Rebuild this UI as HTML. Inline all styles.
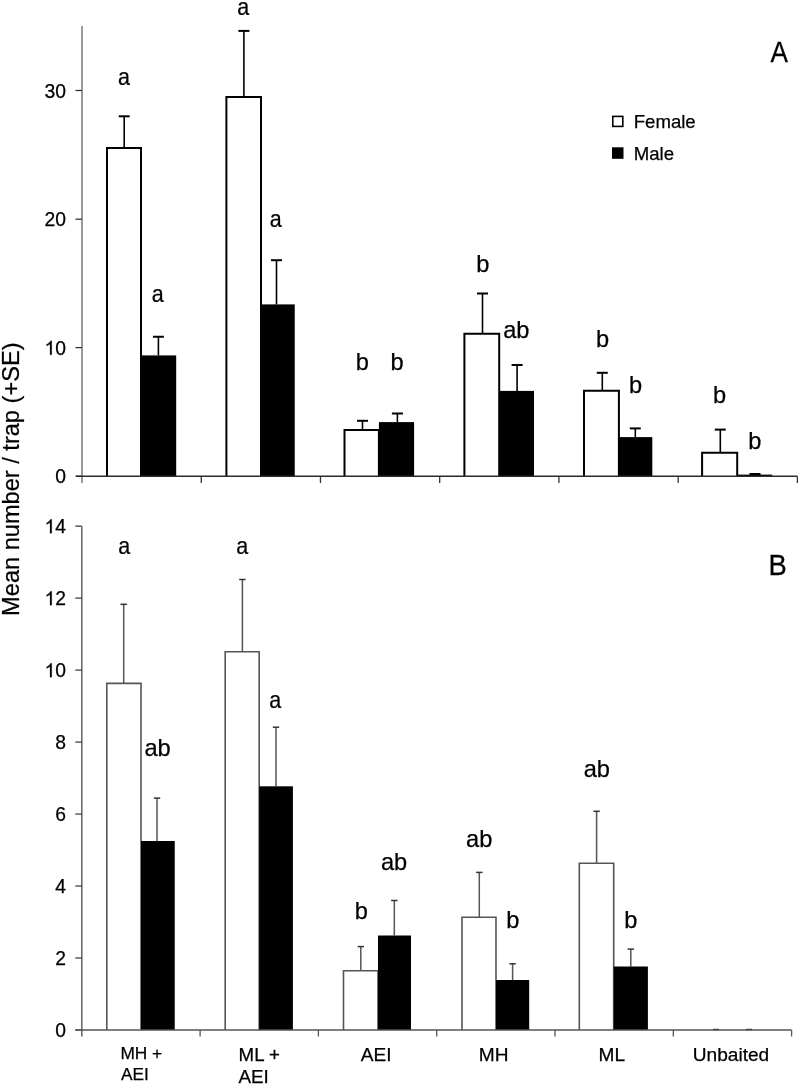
<!DOCTYPE html>
<html><head><meta charset="utf-8"><title>Mean number per trap</title>
<style>
html,body{margin:0;padding:0;background:#fff;}
svg{display:block;will-change:transform;}
text{font-family:"Liberation Sans",sans-serif;fill:#000;stroke:#000;stroke-width:0.25px;}
</style></head>
<body>
<svg width="800" height="1086" viewBox="0 0 800 1086">
<rect x="0" y="0" width="800" height="1086" fill="#fff"/>
<line x1="82" y1="26" x2="82" y2="483" stroke="#9a9a9a" stroke-width="2"/>
<line x1="75.5" y1="476.3" x2="82" y2="476.3" stroke="#333" stroke-width="1.3"/>
<line x1="75.5" y1="347.6" x2="82" y2="347.6" stroke="#333" stroke-width="1.3"/>
<line x1="75.5" y1="219.2" x2="82" y2="219.2" stroke="#333" stroke-width="1.3"/>
<line x1="75.5" y1="90.5" x2="82" y2="90.5" stroke="#333" stroke-width="1.3"/>
<line x1="201.23" y1="476.3" x2="201.23" y2="483" stroke="#333" stroke-width="1.3"/>
<line x1="320.46" y1="476.3" x2="320.46" y2="483" stroke="#333" stroke-width="1.3"/>
<line x1="439.69" y1="476.3" x2="439.69" y2="483" stroke="#333" stroke-width="1.3"/>
<line x1="558.92" y1="476.3" x2="558.92" y2="483" stroke="#333" stroke-width="1.3"/>
<line x1="678.15" y1="476.3" x2="678.15" y2="483" stroke="#333" stroke-width="1.3"/>
<line x1="797.38" y1="476.3" x2="797.38" y2="483" stroke="#333" stroke-width="1.3"/>
<line x1="124.2" y1="148" x2="124.2" y2="116.3" stroke="#000" stroke-width="1.6"/>
<line x1="118.7" y1="116.3" x2="129.7" y2="116.3" stroke="#000" stroke-width="2"/>
<line x1="158.4" y1="355.4" x2="158.4" y2="336.75" stroke="#000" stroke-width="1.6"/>
<line x1="152.9" y1="336.75" x2="163.9" y2="336.75" stroke="#000" stroke-width="2"/>
<path d="M107 476.3 V148.0 H141 V476.3" fill="#fff" stroke="#000" stroke-width="2" stroke-linejoin="miter"/>
<rect x="141" y="355.4" width="35.20" height="121.60" fill="#000"/>
<line x1="243.9" y1="96.9" x2="243.9" y2="30.9" stroke="#000" stroke-width="1.6"/>
<line x1="238.4" y1="30.9" x2="249.4" y2="30.9" stroke="#000" stroke-width="2"/>
<line x1="276.5" y1="304.4" x2="276.5" y2="260.2" stroke="#000" stroke-width="1.6"/>
<line x1="271" y1="260.2" x2="282" y2="260.2" stroke="#000" stroke-width="2"/>
<path d="M226.4 476.3 V96.9 H261 V476.3" fill="#fff" stroke="#000" stroke-width="2" stroke-linejoin="miter"/>
<rect x="261" y="304.4" width="33.75" height="172.60" fill="#000"/>
<line x1="362.5" y1="429.9" x2="362.5" y2="420.8" stroke="#000" stroke-width="1.6"/>
<line x1="357" y1="420.8" x2="368" y2="420.8" stroke="#000" stroke-width="2"/>
<line x1="397.4" y1="422.1" x2="397.4" y2="413.5" stroke="#000" stroke-width="1.6"/>
<line x1="391.9" y1="413.5" x2="402.9" y2="413.5" stroke="#000" stroke-width="2"/>
<path d="M344.5 476.3 V429.9 H378.9 V476.3" fill="#fff" stroke="#000" stroke-width="2" stroke-linejoin="miter"/>
<rect x="378.9" y="422.1" width="35.20" height="54.90" fill="#000"/>
<line x1="482.5" y1="333.8" x2="482.5" y2="293.5" stroke="#000" stroke-width="1.6"/>
<line x1="477" y1="293.5" x2="488" y2="293.5" stroke="#000" stroke-width="2"/>
<line x1="517.1" y1="390.9" x2="517.1" y2="365" stroke="#000" stroke-width="1.6"/>
<line x1="511.6" y1="365" x2="522.6" y2="365" stroke="#000" stroke-width="2"/>
<path d="M464.4 476.3 V333.8 H499.2 V476.3" fill="#fff" stroke="#000" stroke-width="2" stroke-linejoin="miter"/>
<rect x="499.2" y="390.9" width="34.80" height="86.10" fill="#000"/>
<line x1="602.3" y1="390.8" x2="602.3" y2="372.8" stroke="#000" stroke-width="1.6"/>
<line x1="596.8" y1="372.8" x2="607.8" y2="372.8" stroke="#000" stroke-width="2"/>
<line x1="635.3" y1="437.1" x2="635.3" y2="428.4" stroke="#000" stroke-width="1.6"/>
<line x1="629.8" y1="428.4" x2="640.8" y2="428.4" stroke="#000" stroke-width="2"/>
<path d="M584.0 476.3 V390.8 H618.9 V476.3" fill="#fff" stroke="#000" stroke-width="2" stroke-linejoin="miter"/>
<rect x="618.9" y="437.1" width="33.40" height="39.90" fill="#000"/>
<line x1="720.3" y1="452.7" x2="720.3" y2="429.6" stroke="#000" stroke-width="1.6"/>
<line x1="714.8" y1="429.6" x2="725.8" y2="429.6" stroke="#000" stroke-width="2"/>
<line x1="755" y1="474.6" x2="755" y2="474" stroke="#000" stroke-width="1.6"/>
<line x1="749.5" y1="474" x2="760.5" y2="474" stroke="#000" stroke-width="2"/>
<path d="M702.1 476.3 V452.7 H737.2 V476.3" fill="#fff" stroke="#000" stroke-width="2" stroke-linejoin="miter"/>
<rect x="737.2" y="474.6" width="35.00" height="2.40" fill="#000"/>
<line x1="76" y1="476.3" x2="797.4" y2="476.3" stroke="#2a2a2a" stroke-width="1.5"/>
<line x1="81.8" y1="526.2" x2="81.8" y2="1036.5" stroke="#6a6a6a" stroke-width="1.6"/>
<line x1="75.3" y1="1030" x2="81.8" y2="1030" stroke="#444" stroke-width="1.3"/>
<line x1="75.3" y1="958.02" x2="81.8" y2="958.02" stroke="#444" stroke-width="1.3"/>
<line x1="75.3" y1="886.04" x2="81.8" y2="886.04" stroke="#444" stroke-width="1.3"/>
<line x1="75.3" y1="814.06" x2="81.8" y2="814.06" stroke="#444" stroke-width="1.3"/>
<line x1="75.3" y1="742.08" x2="81.8" y2="742.08" stroke="#444" stroke-width="1.3"/>
<line x1="75.3" y1="670.1" x2="81.8" y2="670.1" stroke="#444" stroke-width="1.3"/>
<line x1="75.3" y1="598.12" x2="81.8" y2="598.12" stroke="#444" stroke-width="1.3"/>
<line x1="75.3" y1="526.14" x2="81.8" y2="526.14" stroke="#444" stroke-width="1.3"/>
<line x1="200.1" y1="1030" x2="200.1" y2="1036.5" stroke="#555" stroke-width="1.3"/>
<line x1="318.4" y1="1030" x2="318.4" y2="1036.5" stroke="#555" stroke-width="1.3"/>
<line x1="436.7" y1="1030" x2="436.7" y2="1036.5" stroke="#555" stroke-width="1.3"/>
<line x1="555" y1="1030" x2="555" y2="1036.5" stroke="#555" stroke-width="1.3"/>
<line x1="673.3" y1="1030" x2="673.3" y2="1036.5" stroke="#555" stroke-width="1.3"/>
<line x1="791.6" y1="1030" x2="791.6" y2="1036.5" stroke="#555" stroke-width="1.3"/>
<line x1="123.7" y1="683.4" x2="123.7" y2="604.3" stroke="#555" stroke-width="1.5"/>
<line x1="120.5" y1="604.3" x2="126.9" y2="604.3" stroke="#333" stroke-width="1.5"/>
<line x1="157" y1="841" x2="157" y2="798.1" stroke="#555" stroke-width="1.5"/>
<line x1="153.8" y1="798.1" x2="160.2" y2="798.1" stroke="#333" stroke-width="1.5"/>
<path d="M106.8 1030.0 V683.4 H141 V1030.0" fill="#fff" stroke="#555" stroke-width="1.6" stroke-linejoin="miter"/>
<rect x="141" y="841.0" width="33.75" height="189.00" fill="#000"/>
<line x1="242.4" y1="651.7" x2="242.4" y2="579.5" stroke="#555" stroke-width="1.5"/>
<line x1="239.2" y1="579.5" x2="245.6" y2="579.5" stroke="#333" stroke-width="1.5"/>
<line x1="276" y1="786.3" x2="276" y2="727.2" stroke="#555" stroke-width="1.5"/>
<line x1="272.8" y1="727.2" x2="279.2" y2="727.2" stroke="#333" stroke-width="1.5"/>
<path d="M225.2 1030.0 V651.7 H259.2 V1030.0" fill="#fff" stroke="#555" stroke-width="1.6" stroke-linejoin="miter"/>
<rect x="259.2" y="786.3" width="33.70" height="243.70" fill="#000"/>
<line x1="360.8" y1="970.8" x2="360.8" y2="946.6" stroke="#555" stroke-width="1.5"/>
<line x1="357.6" y1="946.6" x2="364" y2="946.6" stroke="#333" stroke-width="1.5"/>
<line x1="394.3" y1="935.5" x2="394.3" y2="900.5" stroke="#555" stroke-width="1.5"/>
<line x1="391.1" y1="900.5" x2="397.5" y2="900.5" stroke="#333" stroke-width="1.5"/>
<path d="M343.5 1030.0 V970.8 H378 V1030.0" fill="#fff" stroke="#555" stroke-width="1.6" stroke-linejoin="miter"/>
<rect x="378" y="935.5" width="33.00" height="94.50" fill="#000"/>
<line x1="479.3" y1="917.3" x2="479.3" y2="872.4" stroke="#555" stroke-width="1.5"/>
<line x1="476.1" y1="872.4" x2="482.5" y2="872.4" stroke="#333" stroke-width="1.5"/>
<line x1="512.6" y1="980" x2="512.6" y2="963.8" stroke="#555" stroke-width="1.5"/>
<line x1="509.4" y1="963.8" x2="515.8" y2="963.8" stroke="#333" stroke-width="1.5"/>
<path d="M462.0 1030.0 V917.3 H496 V1030.0" fill="#fff" stroke="#555" stroke-width="1.6" stroke-linejoin="miter"/>
<rect x="496" y="980.0" width="33.20" height="50.00" fill="#000"/>
<line x1="596.6" y1="863.3" x2="596.6" y2="811.3" stroke="#555" stroke-width="1.5"/>
<line x1="593.4" y1="811.3" x2="599.8" y2="811.3" stroke="#333" stroke-width="1.5"/>
<line x1="630.8" y1="966.5" x2="630.8" y2="949.1" stroke="#555" stroke-width="1.5"/>
<line x1="627.6" y1="949.1" x2="634" y2="949.1" stroke="#333" stroke-width="1.5"/>
<path d="M579.3 1030.0 V863.3 H613.7 V1030.0" fill="#fff" stroke="#555" stroke-width="1.6" stroke-linejoin="miter"/>
<rect x="613.7" y="966.5" width="34.20" height="63.50" fill="#000"/>
<line x1="75.3" y1="1030" x2="791.6" y2="1030" stroke="#555" stroke-width="1.6"/>
<line x1="713" y1="1029.5" x2="719" y2="1029.5" stroke="#444" stroke-width="1.5"/>
<line x1="746" y1="1029.5" x2="752" y2="1029.5" stroke="#444" stroke-width="1.5"/>
<rect x="612.8" y="116.4" width="10" height="10" fill="#fff" stroke="#000" stroke-width="1.6"/>
<rect x="612" y="147.3" width="11.5" height="11.5" fill="#000"/>
<text x="55.27" y="483.40" font-size="19.3">0</text>
<path d="M51.73 354.70 L50.03 354.70 L50.03 343.89 Q49.42 344.48 48.42 345.06 Q47.43 345.64 46.64 345.94 L46.64 344.30 Q48.06 343.63 49.13 342.68 Q50.19 341.72 50.64 340.83 L51.73 340.83 Z" fill="#000" stroke="#000" stroke-width="0.25"/>
<text x="55.27" y="354.70" font-size="19.3">0</text>
<text x="44.54" y="226.30" font-size="19.3">2</text>
<text x="55.27" y="226.30" font-size="19.3">0</text>
<text x="44.54" y="97.60" font-size="19.3">3</text>
<text x="55.27" y="97.60" font-size="19.3">0</text>
<text x="55.27" y="1037.10" font-size="19.3">0</text>
<text x="55.27" y="965.12" font-size="19.3">2</text>
<text x="55.27" y="893.14" font-size="19.3">4</text>
<text x="55.27" y="821.16" font-size="19.3">6</text>
<text x="55.27" y="749.18" font-size="19.3">8</text>
<path d="M51.73 677.20 L50.03 677.20 L50.03 666.39 Q49.42 666.98 48.42 667.56 Q47.43 668.14 46.64 668.44 L46.64 666.80 Q48.06 666.13 49.13 665.18 Q50.19 664.22 50.64 663.33 L51.73 663.33 Z" fill="#000" stroke="#000" stroke-width="0.25"/>
<text x="55.27" y="677.20" font-size="19.3">0</text>
<path d="M51.73 605.22 L50.03 605.22 L50.03 594.41 Q49.42 595.00 48.42 595.58 Q47.43 596.16 46.64 596.46 L46.64 594.82 Q48.06 594.15 49.13 593.20 Q50.19 592.24 50.64 591.35 L51.73 591.35 Z" fill="#000" stroke="#000" stroke-width="0.25"/>
<text x="55.27" y="605.22" font-size="19.3">2</text>
<path d="M51.73 533.24 L50.03 533.24 L50.03 522.43 Q49.42 523.02 48.42 523.60 Q47.43 524.18 46.64 524.48 L46.64 522.84 Q48.06 522.17 49.13 521.22 Q50.19 520.26 50.64 519.37 L51.73 519.37 Z" fill="#000" stroke="#000" stroke-width="0.25"/>
<text x="55.27" y="533.24" font-size="19.3">4</text>
<text x="0" y="0" font-size="23.6" text-anchor="middle" transform="translate(123.9,85.05) scale(0.91,1)">a</text>
<text x="0" y="0" font-size="23.6" text-anchor="middle" transform="translate(157.6,301.95) scale(0.91,1)">a</text>
<text x="0" y="0" font-size="23.6" text-anchor="middle" transform="translate(243.1,14.75) scale(0.91,1)">a</text>
<text x="0" y="0" font-size="23.6" text-anchor="middle" transform="translate(275.7,226.95) scale(0.91,1)">a</text>
<text x="362.3" y="370.25" font-size="23.6" text-anchor="middle">b</text>
<text x="397.1" y="370.25" font-size="23.6" text-anchor="middle">b</text>
<text x="482.8" y="272.35" font-size="23.6" text-anchor="middle">b</text>
<text x="516.25" y="337.65" font-size="23.6" text-anchor="middle">ab</text>
<text x="602.45" y="346.55" font-size="23.6" text-anchor="middle">b</text>
<text x="635.45" y="392.85" font-size="23.6" text-anchor="middle">b</text>
<text x="719.45" y="403.15" font-size="23.6" text-anchor="middle">b</text>
<text x="754.9" y="448.65" font-size="23.6" text-anchor="middle">b</text>
<text x="0" y="0" font-size="23.6" text-anchor="middle" transform="translate(124.1,554.25) scale(0.91,1)">a</text>
<text x="157.55" y="756.35" font-size="23.6" text-anchor="middle">ab</text>
<text x="0" y="0" font-size="23.6" text-anchor="middle" transform="translate(242.25,554.35) scale(0.91,1)">a</text>
<text x="0" y="0" font-size="23.6" text-anchor="middle" transform="translate(275.2,707.75) scale(0.91,1)">a</text>
<text x="361.4" y="918.75" font-size="23.6" text-anchor="middle">b</text>
<text x="394.0" y="870.35" font-size="23.6" text-anchor="middle">ab</text>
<text x="479.2" y="847.45" font-size="23.6" text-anchor="middle">ab</text>
<text x="512.7" y="927.95" font-size="23.6" text-anchor="middle">b</text>
<text x="596.85" y="777.45" font-size="23.6" text-anchor="middle">ab</text>
<text x="630.85" y="927.75" font-size="23.6" text-anchor="middle">b</text>
<text x="0" y="0" font-size="28.5" transform="translate(770.6,61.9) scale(0.92,1.05)">A</text>
<text x="0" y="0" font-size="28.5" transform="translate(768.5,575.3) scale(0.96,1.05)">B</text>
<text x="633.7" y="128.2" font-size="18.6" text-anchor="start">Female</text>
<text x="633.7" y="159.8" font-size="18.6" text-anchor="start">Male</text>
<text x="120.4" y="1059.4" font-size="17.3" text-anchor="start">MH +</text>
<text x="121.0" y="1079.6" font-size="17.3" text-anchor="start">AEI</text>
<text x="238.6" y="1060.6" font-size="18.7" text-anchor="start">ML +</text>
<text x="238.4" y="1083.4" font-size="18.9" text-anchor="start">AEI</text>
<text x="360.8" y="1061.3" font-size="19.1" text-anchor="start">AEI</text>
<text x="478.8" y="1060.9" font-size="19.1" text-anchor="start">MH</text>
<text x="598.5" y="1060.9" font-size="19.1" text-anchor="start">ML</text>
<text x="692.8" y="1060.8" font-size="19.1" text-anchor="start">Unbaited</text>
<text x="0" y="0" font-size="23.6" transform="translate(19.1,615.9) rotate(-90)">Mean number / trap (+SE)</text>
</svg>
</body></html>
